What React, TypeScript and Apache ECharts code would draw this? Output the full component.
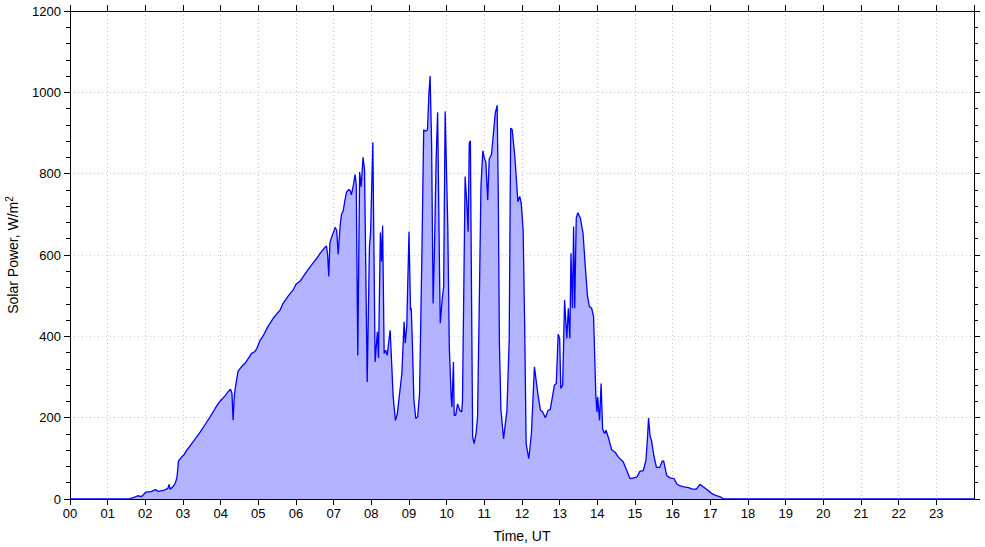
import React, { useEffect, useRef } from "react";
import * as echarts from "echarts";

const hourTicks: string[] = ["00","01","02","03","04","05","06","07","08","09","10","11","12","13","14","15","16","17","18","19","20","21","22","23"];
const powerTicks: number[] = [0, 200, 400, 600, 800, 1000, 1200];

// [time in hours UT, solar power W/m^2]
const solarPower: [number, number][] = [
  [0,0],[1.55,0],[1.7,4],[1.8,8],[1.9,6],[2.02,17],[2.15,18],[2.27,23],[2.33,19],[2.4,20],[2.5,22],[2.6,26],[2.63,36],[2.66,24],[2.75,32],[2.8,40],[2.84,53],[2.88,93],[2.95,102],[3.02,108],[3.1,120],[3.15,126],[3.3,145],[3.46,165],[3.6,185],[3.72,202],[3.85,222],[3.94,235],[4.02,244],[4.11,253],[4.2,264],[4.26,270],[4.3,260],[4.33,194],[4.36,250],[4.38,268],[4.46,314],[4.55,325],[4.64,333],[4.73,345],[4.82,358],[4.9,362],[4.96,370],[5.04,389],[5.15,405],[5.26,425],[5.4,445],[5.58,465],[5.65,480],[5.8,500],[5.93,515],[6.0,528],[6.11,536],[6.2,548],[6.31,563],[6.45,580],[6.55,592],[6.65,605],[6.75,617],[6.81,622],[6.84,600],[6.87,547],[6.9,630],[6.97,650],[7.04,668],[7.08,660],[7.12,602],[7.17,670],[7.21,701],[7.25,707],[7.3,735],[7.34,754],[7.4,761],[7.44,758],[7.47,748],[7.52,770],[7.57,798],[7.6,772],[7.64,353],[7.69,804],[7.73,768],[7.78,840],[7.82,809],[7.89,288],[7.95,620],[7.98,655],[8.04,877],[8.1,337],[8.16,411],[8.19,347],[8.24,655],[8.27,584],[8.3,672],[8.34,358],[8.38,366],[8.42,353],[8.5,415],[8.58,251],[8.64,193],[8.69,210],[8.81,308],[8.87,436],[8.9,383],[8.94,425],[9.0,657],[9.04,464],[9.06,469],[9.09,382],[9.13,243],[9.18,198],[9.23,202],[9.28,259],[9.34,588],[9.39,908],[9.44,904],[9.49,908],[9.53,998],[9.56,1040],[9.6,875],[9.64,481],[9.67,588],[9.72,834],[9.76,951],[9.81,564],[9.83,432],[9.88,490],[9.92,522],[9.96,953],[10.03,670],[10.07,374],[10.12,251],[10.14,226],[10.18,337],[10.2,206],[10.24,206],[10.29,234],[10.35,218],[10.4,214],[10.42,243],[10.49,793],[10.53,735],[10.57,657],[10.6,875],[10.63,881],[10.66,505],[10.69,152],[10.73,136],[10.78,161],[10.82,202],[10.87,505],[10.91,768],[10.96,856],[11.0,838],[11.04,829],[11.09,735],[11.13,836],[11.19,847],[11.25,908],[11.29,949],[11.34,968],[11.37,752],[11.4,382],[11.44,220],[11.51,148],[11.6,218],[11.66,391],[11.7,912],[11.74,908],[11.81,842],[11.89,731],[11.94,744],[11.98,727],[12.03,662],[12.07,432],[12.11,136],[12.18,99],[12.25,161],[12.33,325],[12.42,259],[12.49,218],[12.55,214],[12.62,200],[12.69,218],[12.75,220],[12.86,280],[12.91,284],[12.96,405],[13.0,395],[13.03,272],[13.08,280],[13.13,489],[13.19,395],[13.23,469],[13.27,395],[13.3,604],[13.34,469],[13.37,670],[13.4,469],[13.44,690],[13.48,704],[13.55,691],[13.62,654],[13.68,572],[13.74,498],[13.79,473],[13.85,469],[13.9,449],[13.96,255],[13.99,214],[14.01,251],[14.06,193],[14.1,284],[14.14,173],[14.19,161],[14.23,169],[14.29,152],[14.38,121],[14.47,115],[14.56,103],[14.69,91],[14.78,70],[14.87,50],[14.96,52],[15.05,54],[15.13,68],[15.22,70],[15.29,95],[15.33,148],[15.36,199],[15.4,155],[15.44,143],[15.5,107],[15.57,78],[15.66,78],[15.72,93],[15.76,94],[15.84,58],[15.93,52],[16.04,50],[16.11,37],[16.2,32],[16.3,30],[16.42,28],[16.51,25],[16.63,24],[16.72,36],[16.81,30],[16.9,24],[17.03,14],[17.16,8],[17.27,5],[17.36,0],[24,0]
];

const FONT = "'Liberation Sans', Arial, sans-serif";

export default function App() {
  const ref = useRef<HTMLDivElement>(null);
  useEffect(() => {
    if (!ref.current) return;
    const chart = echarts.init(ref.current, null, { renderer: "svg" });
    const tickLine = { color: "#000", width: 1 };
    const hourLabel = (v: number) => (v >= 0 && v < 24 ? hourTicks[Math.round(v)] : "");
    const powerLabel = (v: number) => (powerTicks.indexOf(v) >= 0 ? String(v) : "");
    chart.setOption({
      animation: false,
      backgroundColor: "#fff",
      textStyle: { fontFamily: FONT },
      grid: { left: 70, right: 11, top: 11, bottom: 48, containLabel: false, outerBoundsMode: "none" },
      xAxis: [
        {
          type: "value", min: 0, max: 24, interval: 1, position: "bottom",
          name: "Time, UT", nameLocation: "middle", nameGap: 30,
          nameTextStyle: { fontFamily: FONT, fontSize: 14, color: "#000" },
          axisLine: { show: true, onZero: false, lineStyle: tickLine },
          axisTick: { show: true, inside: false, length: 6, lineStyle: tickLine },
          axisLabel: { fontFamily: FONT, fontSize: 13, color: "#000", margin: 8, showMaxLabel: false, formatter: hourLabel },
          splitLine: { show: true, lineStyle: { color: "#c8c8c8", type: [1, 3], width: 1 } },
        },
        {
          type: "value", min: 0, max: 24, interval: 1, position: "top",
          axisLine: { show: true, onZero: false, lineStyle: tickLine },
          axisTick: { show: true, inside: false, length: 6, lineStyle: tickLine },
          axisLabel: { show: false },
          splitLine: { show: false },
        },
      ],
      yAxis: [
        {
          type: "value", min: 0, max: 1200, interval: 200, position: "left",
          name: "Solar Power, W/m{sup|2}", nameLocation: "middle", nameGap: 48,
          nameTextStyle: {
            fontFamily: FONT, fontSize: 14, color: "#000",
            rich: { sup: { fontFamily: FONT, fontSize: 10, color: "#000", verticalAlign: "bottom", padding: [0, 0, 8, 0] } },
          },
          axisLine: { show: true, onZero: false, lineStyle: tickLine },
          axisTick: { show: true, inside: false, length: 6, lineStyle: tickLine },
          minorTick: { show: true, splitNumber: 5, length: 4, lineStyle: tickLine },
          axisLabel: { fontFamily: FONT, fontSize: 13, color: "#000", margin: 9, formatter: powerLabel },
          splitLine: { show: true, lineStyle: { color: "#c8c8c8", type: [1, 3], width: 1 } },
        },
        {
          type: "value", min: 0, max: 1200, interval: 200, position: "right",
          axisLine: { show: true, onZero: false, lineStyle: tickLine },
          axisTick: { show: true, inside: false, length: 6, lineStyle: tickLine },
          minorTick: { show: true, splitNumber: 5, length: 4, lineStyle: tickLine },
          axisLabel: { show: false },
          splitLine: { show: false },
        },
      ],
      series: [
        {
          type: "line",
          xAxisIndex: 0,
          yAxisIndex: 0,
          data: solarPower,
          showSymbol: false,
          symbol: "none",
          smooth: false,
          lineStyle: { color: "#0000ff", width: 1.3 },
          areaStyle: { color: "#b3b3ff", opacity: 1, origin: "start" },
          z: 3,
        },
      ],
    });
    return () => chart.dispose();
  }, []);
  return <div ref={ref} style={{ position: "fixed", left: 0, top: 0, width: 985, height: 547 }} />;
}
